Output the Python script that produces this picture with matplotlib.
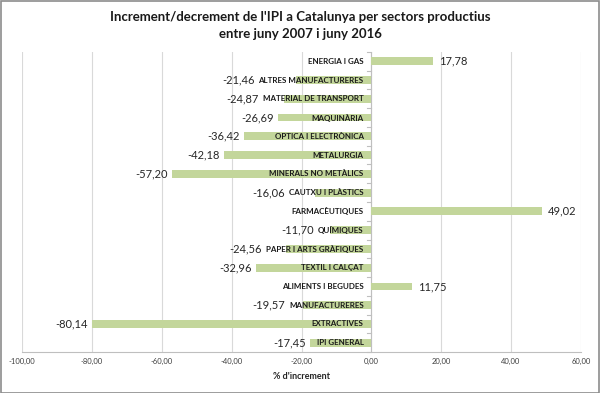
import numpy as np
import matplotlib
matplotlib.use("Agg")
import matplotlib.pyplot as plt
from matplotlib.patches import Rectangle

# sectors from top to bottom, as in the chart
sectors = ["ENERGIA I GAS", "ALTRES MANUFACTURERES", "MATERIAL DE TRANSPORT",
           "MAQUINÀRIA", "OPTICA I ELECTRÒNICA", "METALURGIA",
           "MINERALS NO METÀLICS", "CAUTXU I PLÀSTICS", "FARMACÈUTIQUES",
           "QUÍMIQUES", "PAPER I ARTS GRÀFIQUES", "TEXTIL I CALÇAT",
           "ALIMENTS I BEGUDES", "MANUFACTURERES", "EXTRACTIVES", "IPI GENERAL"]
values = [17.78, -21.46, -24.87, -26.69, -36.42, -42.18, -57.20, -16.06,
          49.02, -11.70, -24.56, -32.96, 11.75, -19.57, -80.14, -17.45]
xticks = [-100, -80, -60, -40, -20, 0, 20, 40, 60]

plt.rcParams['font.family'] = ['Lato', 'DejaVu Sans']


def fmt(v):
    return f"{v:.2f}".replace(".", ",")


fig = plt.figure(figsize=(6, 3.93), dpi=100)
ax = fig.add_axes([0.037, 0.104, 0.931, 0.764])

n = len(sectors)
y = np.arange(n)[::-1]
ax.barh(y, values, height=0.42, color='#c3d69b', zorder=2)

ax.set_xlim(-100, 60)
ax.set_ylim(-0.5, n - 0.5)

renderer = fig.canvas.get_renderer()
inv = ax.transData.inverted()
for yi, v, name in zip(y, values, sectors):
    t = ax.text(-2.2, yi, name, ha='right', va='center', fontsize=5.8,
                fontweight='bold', color='#1a1a1a', zorder=3)
    if v < 0:
        # keep the value clear of the category label, like Excel does
        bb = t.get_window_extent(renderer)
        label_left = inv.transform((bb.x0, 0))[0]
        xv = min(v, label_left) - 1.2
        ax.text(xv, yi, fmt(v), ha='right', va='center', fontsize=8, color='#262626')
    else:
        ax.text(v + 1.5, yi, fmt(v), ha='left', va='center', fontsize=8, color='#262626')

ax.set_xticks(xticks)
ax.set_xticklabels([fmt(t) for t in xticks], fontsize=5.5, color='#404040')
ax.xaxis.grid(True, color='#d9d9d9', linewidth=0.8, zorder=0)
ax.set_axisbelow(True)
ax.tick_params(axis='x', length=0, pad=4)
ax.set_yticks([])
ax.set_xlabel("% d'increment", fontsize=6.5, fontweight='bold', color='#262626', labelpad=5)

for s in ['top', 'right', 'left']:
    ax.spines[s].set_visible(False)
ax.spines['bottom'].set_color('#bfbfbf')
ax.spines['bottom'].set_linewidth(0.8)

# category axis at zero with small tick marks between categories
ax.axvline(0, color='#bfbfbf', linewidth=0.8, zorder=1)
for b in np.arange(n + 1) - 0.5:
    ax.plot([-1.2, 0], [b, b], color='#bfbfbf', linewidth=0.8, zorder=1, clip_on=False)

fig.suptitle("Increment/decrement de l'IPI a Catalunya per sectors productius\nentre juny 2007 i juny 2016",
             fontsize=9.5, fontweight='bold', color='#1a1a1a', y=0.972, linespacing=1.5)

fig.patches.append(Rectangle((0.001, 0.001), 0.997, 0.997, transform=fig.transFigure,
                             fill=False, edgecolor='#8c8c8c', linewidth=1.2))

fig.savefig("out.png", dpi=100)
